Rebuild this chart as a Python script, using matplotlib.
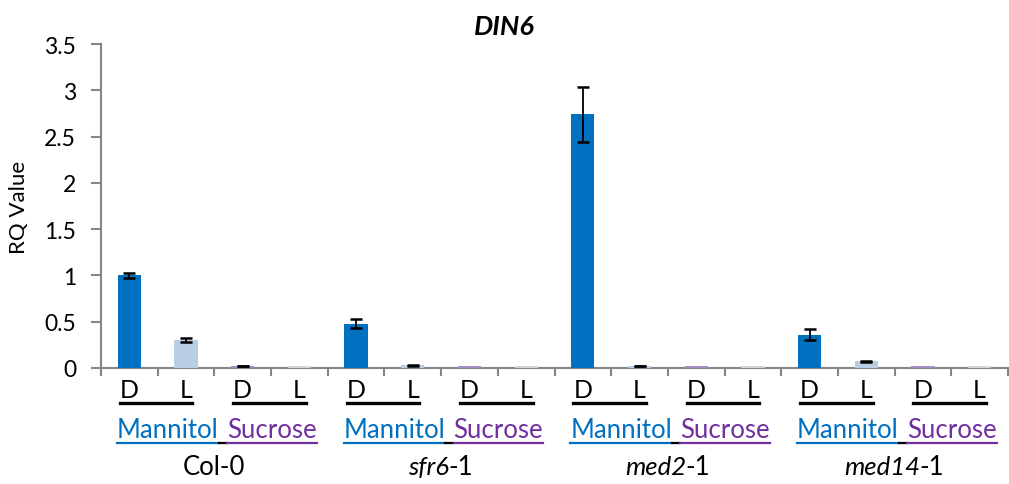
import numpy as np
import matplotlib
matplotlib.use("Agg")
import matplotlib.pyplot as plt
from matplotlib.lines import Line2D

plt.rcParams["font.family"] = ["Lato", "DejaVu Sans"]

# DIN6 expression (RQ) per genotype, dark (D) / light (L), mannitol / sucrose
genotype_names = ["Col-0", "sfr6", "med2", "med14"]
genotype_suffix = ["", "-1", "-1", "-1"]
mannitol_d = [1.00, 0.48, 2.74, 0.36]
mannitol_d_err = [0.03, 0.05, 0.30, 0.06]
mannitol_l = [0.30, 0.03, 0.02, 0.072]
mannitol_l_err = [0.02, 0.004, 0.003, 0.002]
sucrose_d = [0.025, 0.025, 0.025, 0.025]
sucrose_d_err = [0.002, np.nan, np.nan, np.nan]
sucrose_l = [0.02, 0.02, 0.02, 0.02]
sucrose_l_err = [np.nan, np.nan, np.nan, np.nan]
cond_labels = ["D", "L", "D", "L"]

series = [
    (mannitol_d, mannitol_d_err, "#0070C0"),
    (mannitol_l, mannitol_l_err, "#B9CDE5"),
    (sucrose_d, sucrose_d_err, "#A48FC4"),
    (sucrose_l, sucrose_l_err, "#D4D4DA"),
]

fig = plt.figure(figsize=(10.09, 4.85), dpi=100)
ax = fig.add_axes([101 / 1009, 1 - 369 / 485, 907 / 1009, 324 / 485])

for j, (vals, errs, col) in enumerate(series):
    xs = np.arange(len(genotype_names)) * 4 + j
    ax.bar(xs, vals, width=0.41, color=col, zorder=2)
    ax.errorbar(xs, vals, yerr=errs, fmt="none", ecolor="black",
                elinewidth=1.3, capsize=4.5, capthick=1.8, zorder=3)

ax.set_xlim(-0.5, 15.5)
ax.set_ylim(0, 3.5)
ax.set_yticks(np.arange(0, 3.51, 0.5))
ax.set_yticklabels(["0", "0.5", "1", "1.5", "2", "2.5", "3", "3.5"])
ax.set_xticks(np.arange(16))
ax.set_xticklabels(cond_labels * 4)
ax.set_xticks(np.arange(-0.5, 16, 1), minor=True)
ax.tick_params(axis="x", which="major", length=0, pad=7, labelsize=18)
ax.tick_params(axis="x", which="minor", length=6, width=1.5, color="#868686")
ax.tick_params(axis="y", length=7, width=1.5, color="#868686", pad=11, labelsize=16.5)

for s in ["top", "right"]:
    ax.spines[s].set_visible(False)
for s in ["left", "bottom"]:
    ax.spines[s].set_color("#868686")
    ax.spines[s].set_linewidth(1.5)
    ax.spines[s].set_zorder(1)

ax.set_ylabel("RQ Value", fontsize=16, labelpad=11)
fig.text(0.5, 1 - 27 / 485, "DIN6", fontsize=19.5, fontweight="bold",
         style="italic", ha="center", va="center")

# treatment and genotype labels under each group
trans = ax.get_xaxis_transform()
man_texts, suc_texts, geno_parts = [], [], []
for g in range(len(genotype_names)):
    c = g * 4 + 1.5
    man_texts.append(ax.annotate("Mannitol", xy=(c, 0), xycoords=trans,
                                 xytext=(3, -50), textcoords="offset points",
                                 ha="right", va="baseline", fontsize=18.5,
                                 color="#0070C0"))
    suc_texts.append(ax.annotate("Sucrose", xy=(c, 0), xycoords=trans,
                                 xytext=(9, -50), textcoords="offset points",
                                 ha="left", va="baseline", fontsize=18.5,
                                 color="#7030A0"))
    style = "normal" if genotype_names[g] == "Col-0" else "italic"
    t_main = ax.annotate(genotype_names[g], xy=(c, 0), xycoords=trans,
                         xytext=(0, -76), textcoords="offset points",
                         ha="left", va="baseline", fontsize=18.5, style=style)
    t_suf = ax.annotate(genotype_suffix[g], xy=(c, 0), xycoords=trans,
                        xytext=(0, -76), textcoords="offset points",
                        ha="left", va="baseline", fontsize=18.5)
    geno_parts.append((t_main, t_suf))

fig.canvas.draw()
renderer = fig.canvas.get_renderer()
H = fig.bbox.height
W = fig.bbox.width
px2pt = 72 / fig.dpi

# centre each genotype label (italic name + plain suffix) under its group
for t_main, t_suf in geno_parts:
    w1 = t_main.get_window_extent(renderer).width
    w2 = t_suf.get_window_extent(renderer).width if t_suf.get_text() else 0
    start = -(w1 + w2) / 2
    t_main.set_position((start * px2pt, -76))
    t_suf.set_position(((start + w1 - 1) * px2pt, -76))

fig.canvas.draw()


def hline(x0, x1, y, color, lw):
    fig.add_artist(Line2D([x0 / W, x1 / W], [y / H, y / H], color=color,
                          lw=lw, transform=fig.transFigure))


# underline the D/L label pairs
ticklabels = ax.get_xticklabels()
for k in range(0, 16, 2):
    b0 = ticklabels[k].get_window_extent(renderer)
    b1 = ticklabels[k + 1].get_window_extent(renderer)
    hline(b0.x0, b1.x1, b0.y0 - 2, "black", 2.4)

# underline treatment names
for tm, ts in zip(man_texts, suc_texts):
    bm = tm.get_window_extent(renderer)
    bs = ts.get_window_extent(renderer)
    y = bm.y0 - 1
    hline(bm.x0, bm.x1, y, "#0070C0", 1.6)
    hline(bm.x1, bs.x0, y, "black", 1.6)
    hline(bs.x0, bs.x1, y, "#7030A0", 1.6)

fig.savefig("out.png", dpi=100)
